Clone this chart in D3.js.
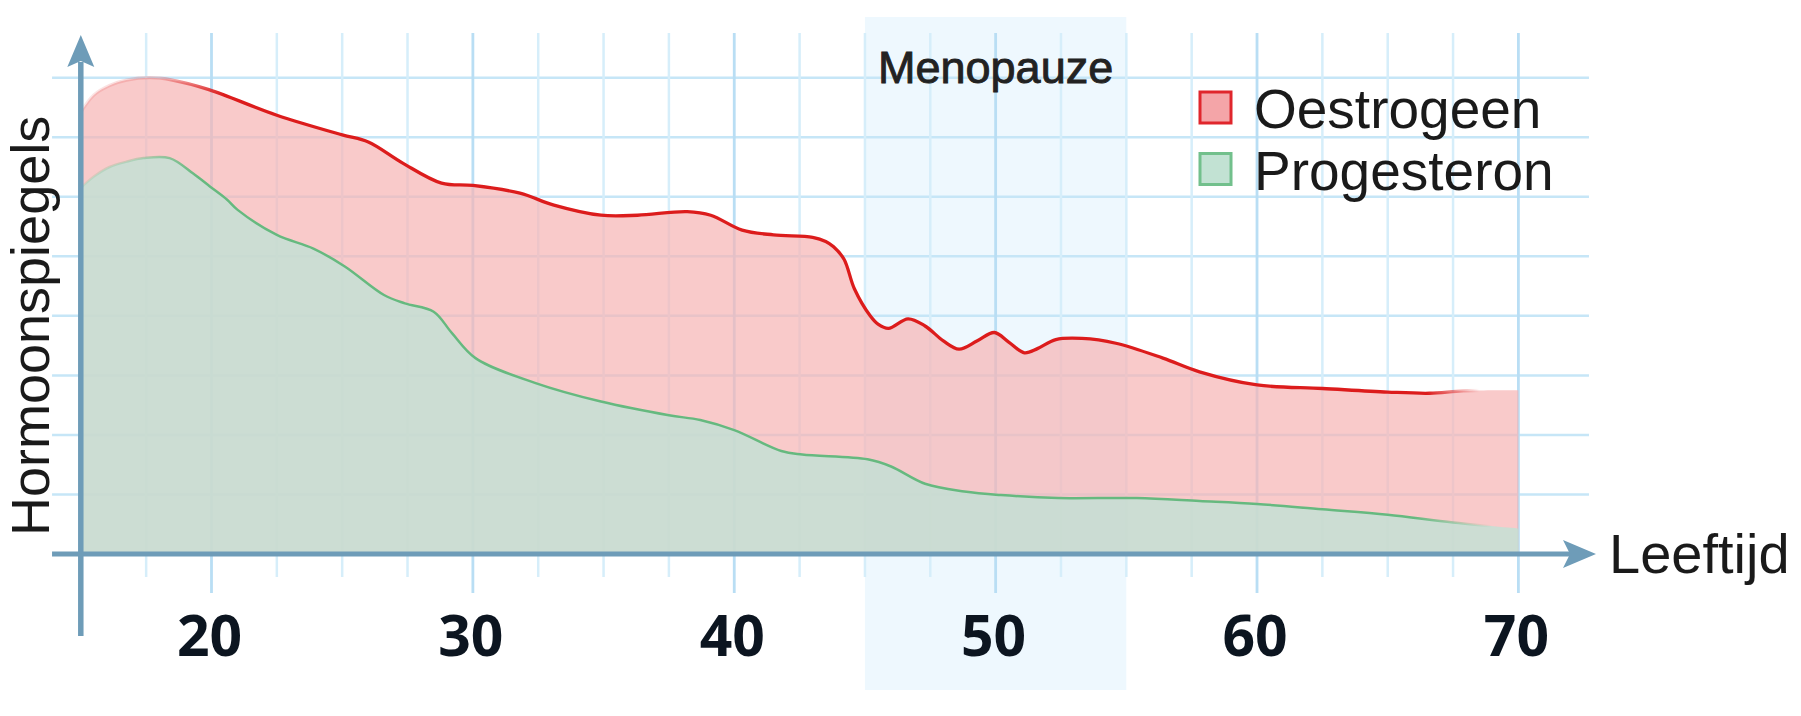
<!DOCTYPE html>
<html>
<head>
<meta charset="utf-8">
<script src="https://cdn.jsdelivr.net/npm/d3@7"></script>
<style>
  html, body { margin: 0; padding: 0; background: #fff; }
  svg { display: block; }
</style>
</head>
<body>
<svg id="chart" width="1801" height="716"></svg>
<script>
// hormone levels (arbitrary units, grid = 1)
var estrogenAges = [15, 15.5, 16.1, 16.75, 17.65, 18.5, 19.9, 22.5, 25, 26, 27.3, 28.8, 30, 31.8, 33.1, 34.9,
                    36.3, 38.2, 39.1, 40.3, 41.5, 43, 43.5, 43.8, 44.2, 44.6, 45.2, 45.5, 45.9, 46.65, 47.3,
                    48, 48.6, 49.3, 49.95, 50.5, 51.1, 51.6, 52.3, 53.3, 54.6, 56.4, 57.8, 60, 62.5, 65, 66.6, 67.9, 70];
var estrogen = [7.42, 7.71, 7.87, 7.96, 8.0, 7.96, 7.80, 7.37, 7.04, 6.92, 6.57, 6.23, 6.19, 6.06, 5.86, 5.69,
                5.69, 5.75, 5.69, 5.44, 5.36, 5.32, 5.25, 5.16, 4.95, 4.45, 4.0, 3.86, 3.79, 3.95, 3.83,
                3.58, 3.44, 3.58, 3.72, 3.56, 3.38, 3.45, 3.60, 3.62, 3.54, 3.29, 3.06, 2.84, 2.78, 2.72, 2.70, 2.74, 2.75];

var progesteroneAges = [15, 15.5, 16.1, 16.75, 17.4, 18.4, 19.3, 19.95, 20.6, 21, 22.5, 23.9, 25.1, 26.6, 27.4,
                        28.5, 29.2, 30.1, 32.4, 34.9, 37.5, 38.7, 40, 41.8, 42.6, 45.1, 46, 47.3, 48.8, 50.2,
                        52.4, 55.4, 57.8, 60, 62.5, 65, 67.5, 70];
var progesterone = [6.15, 6.34, 6.5, 6.59, 6.65, 6.65, 6.39, 6.17, 5.95, 5.78, 5.36, 5.13, 4.83, 4.35, 4.21,
                    4.07, 3.71, 3.29, 2.87, 2.56, 2.33, 2.25, 2.08, 1.73, 1.67, 1.59, 1.47, 1.18, 1.05, 0.99,
                    0.94, 0.94, 0.89, 0.84, 0.75, 0.66, 0.53, 0.43];

var xTicks = [20, 30, 40, 50, 60, 70];
var menopause = [45, 55];
var seriesNames = ["Oestrogeen", "Progesteron"];

var svg = d3.select("#chart");

var x = d3.scaleLinear().domain([15, 70]).range([80.8, 1518.4]);
var y = d3.scaleLinear().domain([0, 8]).range([554, 77.7]);

var axisColor = "#6e9cb8";
var font = "'Liberation Sans', Arial, Helvetica, sans-serif";

// menopause band, behind everything
svg.append("rect")
  .attr("x", x(menopause[0]))
  .attr("width", x(menopause[1]) - x(menopause[0]))
  .attr("y", 17)
  .attr("height", 673)
  .attr("fill", "#eef8fe");

// grid
var grid = svg.append("g");
grid.selectAll("line.h")
  .data(d3.range(1, 9))
  .enter().append("line")
  .attr("class", "h")
  .attr("x1", x(13.9)).attr("x2", x(72.7))
  .attr("y1", function(d){ return y(d); })
  .attr("y2", function(d){ return y(d); })
  .attr("stroke", "#c6e6f7")
  .attr("stroke-width", 2.5);

grid.selectAll("line.v")
  .data(d3.range(17.5, 70.01, 2.5))
  .enter().append("line")
  .attr("class", "v")
  .attr("x1", function(d){ return x(d); })
  .attr("x2", function(d){ return x(d); })
  .attr("y1", 33)
  .attr("y2", function(d){ return d % 10 == 0 ? 593 : 577; })
  .attr("stroke", function(d){ return d % 10 == 0 ? "#b9def4" : "#d6eefa"; })
  .attr("stroke-width", function(d){ return d % 10 == 0 ? 2.8 : 2.5; });

// areas
var estData = estrogenAges.map(function(a, i){ return [a, estrogen[i]]; });
var proData = progesteroneAges.map(function(a, i){ return [a, progesterone[i]]; });

var curve = d3.curveCatmullRom.alpha(0.5);
var area = d3.area()
  .x(function(d){ return x(d[0]); })
  .y0(y(0))
  .y1(function(d){ return y(d[1]); })
  .curve(curve);
var line = d3.line()
  .x(function(d){ return x(d[0]); })
  .y(function(d){ return y(d[1]); })
  .curve(curve);

svg.append("path").datum(estData)
  .attr("d", area)
  .attr("fill", "#f6b3b3")
  .attr("fill-opacity", 0.7);

svg.append("path").datum(proData)
  .attr("d", area)
  .attr("fill", "#c2e1d4")
  .attr("fill-opacity", 0.82);

// outline strokes fade in and out at the ends
var defs = svg.append("defs");
function fadeGradient(id, color, stops){
  var g = defs.append("linearGradient")
    .attr("id", id)
    .attr("gradientUnits", "userSpaceOnUse")
    .attr("x1", x(15)).attr("x2", x(70))
    .attr("y1", 0).attr("y2", 0);
  stops.forEach(function(s){
    g.append("stop")
      .attr("offset", (s[0] - 15) / 55)
      .attr("stop-color", color)
      .attr("stop-opacity", s[1]);
  });
}
fadeGradient("redFade", "#dc1c1c", [[15, 0.1], [18, 0.2], [20.5, 1], [66.5, 1], [68.5, 0]]);
fadeGradient("greenFade", "#66b97f", [[15, 0.15], [17, 0.3], [19.5, 1], [66, 1], [69, 0]]);

svg.append("path").datum(estData)
  .attr("d", line)
  .attr("fill", "none")
  .attr("stroke", "url(#redFade)")
  .attr("stroke-width", 3.3);

svg.append("path").datum(proData)
  .attr("d", line)
  .attr("fill", "none")
  .attr("stroke", "url(#greenFade)")
  .attr("stroke-width", 2.5);

// axes with arrow heads
var axes = svg.append("g");
axes.append("line")
  .attr("x1", x(15)).attr("x2", x(15))
  .attr("y1", 636).attr("y2", 62)
  .attr("stroke", axisColor).attr("stroke-width", 5.5);
axes.append("line")
  .attr("x1", x(13.9)).attr("x2", 1572)
  .attr("y1", y(0)).attr("y2", y(0))
  .attr("stroke", axisColor).attr("stroke-width", 5);

var ax = x(15);
axes.append("path")
  .attr("d", "M" + ax + ",35 L" + (ax + 13.5) + ",67 L" + ax + ",61 L" + (ax - 13.5) + ",67 Z")
  .attr("fill", axisColor);
var ay = y(0);
axes.append("path")
  .attr("d", "M1596," + ay + " L1563," + (ay - 14) + " L1570," + ay + " L1563," + (ay + 14) + " Z")
  .attr("fill", axisColor);

// tick labels
svg.selectAll("text.tick")
  .data(xTicks)
  .enter().append("text")
  .attr("class", "tick")
  .attr("x", function(d){ return x(d) - 2; })
  .attr("y", 656)
  .attr("text-anchor", "middle")
  .attr("font-family", "'Open Sans', 'Liberation Sans', Arial, sans-serif")
  .attr("font-weight", 700)
  .attr("font-size", 57)
  .attr("fill", "#0c1520")
  .text(function(d){ return d; });

// axis titles
svg.append("text")
  .attr("x", 1609).attr("y", 573)
  .attr("font-family", font)
  .attr("font-size", 56)
  .attr("fill", "#1a1a1a")
  .text("Leeftijd");

svg.append("text")
  .attr("transform", "translate(49,536) rotate(-90)")
  .attr("font-family", font)
  .attr("font-size", 54)
  .attr("fill", "#1a1a1a")
  .text("Hormoonspiegels");

// band label
svg.append("text")
  .attr("x", x(50)).attr("y", 83)
  .attr("text-anchor", "middle")
  .attr("font-family", font)
  .attr("font-size", 45)
  .attr("fill", "#222")
  .attr("stroke", "#222")
  .attr("stroke-width", 0.9)
  .text("Menopauze");

// legend
var legendFill = ["#f4a5a8", "#c2e2d3"];
var legendStroke = ["#e0262c", "#72c08c"];
var legend = svg.append("g");
seriesNames.forEach(function(name, i){
  var top = 92 + i * 61.5;
  legend.append("rect")
    .attr("x", 1200).attr("y", top)
    .attr("width", 31).attr("height", 31)
    .attr("fill", legendFill[i])
    .attr("stroke", legendStroke[i])
    .attr("stroke-width", 3);
  legend.append("text")
    .attr("x", 1254).attr("y", top + 36)
    .attr("font-family", font)
    .attr("font-size", 55)
    .attr("fill", "#1a1a1a")
    .text(name);
});
</script>
</body>
</html>
